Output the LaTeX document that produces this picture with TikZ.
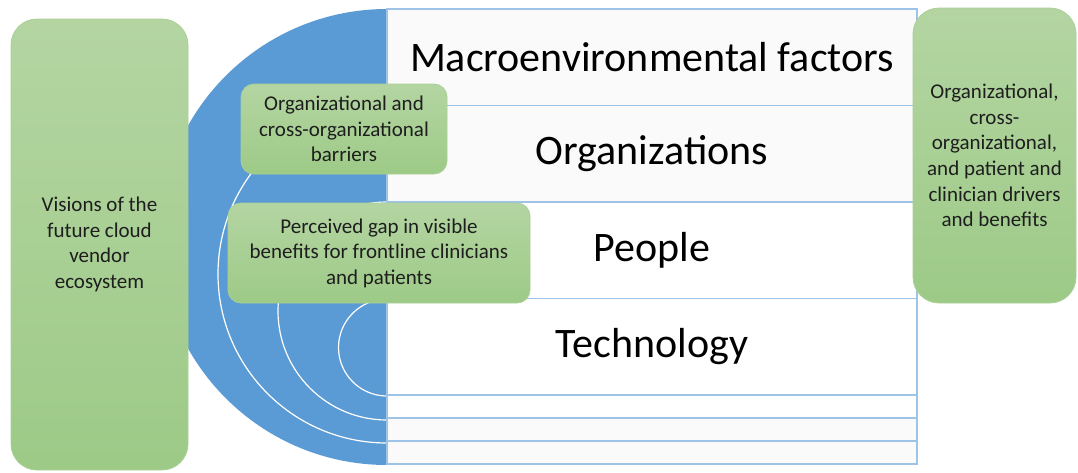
\documentclass[tikz,border=0pt]{standalone}
\usepackage{fontspec}
\setmainfont{Carlito}
\usetikzlibrary{positioning}
\definecolor{vblue}{HTML}{5B9BD5}
\definecolor{rowline}{HTML}{9DC3E6}
\definecolor{rowgray}{HTML}{FAFAFA}
\definecolor{boxtop}{HTML}{B4D5A2}
\definecolor{boxbot}{HTML}{9DCA87}
\definecolor{boxedge}{HTML}{A9D096}
\definecolor{textgray}{HTML}{1E1E1E}
\begin{document}
\begin{tikzpicture}[x=1pt,y=-1pt,
	row/.style={draw=rowline, line width=1.3pt, outer sep=0pt, inner sep=0pt, minimum width=530pt, font=\fontsize{42}{50}\selectfont},
	bigrow/.style={row, minimum height=96.5pt},
	thinrow/.style={row, minimum height=23pt},
	greenbox/.style={draw=boxedge, line width=0.8pt, top color=boxtop, bottom color=boxbot, rounded corners=13pt, align=center, inner sep=0pt, text=textgray, font=\fontsize{21}{25.6}\selectfont}]
			\useasboundingbox (0,0) rectangle (1078,472);
			\fill[vblue] (387,9) arc[start angle=270, end angle=90, radius=228] -- cycle;
			\draw[white, line width=1.2pt] (387,299) arc[start angle=270, end angle=90, radius=48.5];
			\draw[white, line width=1.2pt] (387,202) arc[start angle=270, end angle=90, radius=109];
			\draw[white, line width=1.2pt] (387,105) arc[start angle=270, end angle=90, radius=169];
			\node[bigrow, fill=rowgray, anchor=north west] (macro) at (387,9) {Macroenvironmental factors};
			\node[bigrow, fill=rowgray, below=0pt of macro] (orgs) {Organizations};
			\node[bigrow, fill=white, below=0pt of orgs] (people) {People};
			\node[bigrow, fill=white, below=0pt of people] (tech) {Technology};
			\node[thinrow, fill=white, below=0pt of tech] (blankA) {};
			\node[thinrow, fill=rowgray, below=0pt of blankA] (blankB) {};
			\node[thinrow, fill=rowgray, below=0pt of blankB] (blankC) {};
			\node[greenbox, rounded corners=26pt, minimum width=177pt, minimum height=451pt] (vision) at (99.5,244.5) {Visions of the\\future cloud\\vendor\\ecosystem};
			\node[greenbox, rounded corners=26pt, minimum width=163pt, minimum height=295pt] (drivers) at (994.5,155.5) {Organizational,\\cross-\\organizational,\\and patient and\\clinician drivers\\and benefits};
			\node[greenbox, minimum width=206pt, minimum height=90pt] (barriers) at (344,129) {Organizational and\\cross-organizational\\barriers};
			\node[greenbox, minimum width=302pt, minimum height=100pt] (gap) at (379,253) {Perceived gap in visible\\benefits for frontline clinicians\\and patients};
		\end{tikzpicture}
\end{document}
